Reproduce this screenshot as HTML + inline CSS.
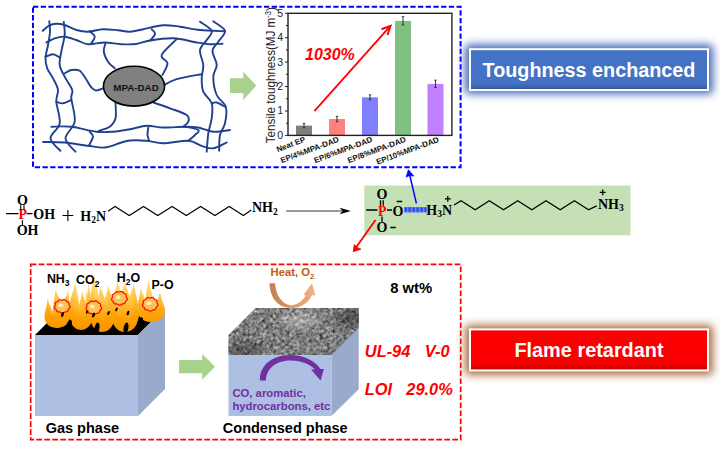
<!DOCTYPE html>
<html><head><meta charset="utf-8">
<style>
html,body{margin:0;padding:0;background:#fff;width:720px;height:450px;overflow:hidden}
svg{display:block}
text{font-family:"Liberation Sans",sans-serif}
.serif text,.serif{font-family:"Liberation Serif",serif;font-weight:bold}
</style></head><body>
<svg width="720" height="450" viewBox="0 0 720 450">
<defs>
  
  <filter id="blur35" x="-20%" y="-60%" width="140%" height="220%"><feGaussianBlur stdDeviation="4"/></filter>
  <linearGradient id="gBlue" x1="0" y1="0" x2="0" y2="1">
    <stop offset="0" stop-color="#4472c4"/><stop offset="0.85" stop-color="#4472c4"/><stop offset="1" stop-color="#2f5597"/>
  </linearGradient>
  <linearGradient id="gRed" x1="0" y1="0" x2="0" y2="1">
    <stop offset="0" stop-color="#ff0000"/><stop offset="0.85" stop-color="#f80000"/><stop offset="1" stop-color="#c00000"/>
  </linearGradient>
  <linearGradient id="gHeat" x1="0" y1="0" x2="1" y2="0">
    <stop offset="0" stop-color="#c08050"/><stop offset="1" stop-color="#f4b183"/>
  </linearGradient>
  <linearGradient id="gFlame" gradientUnits="userSpaceOnUse" x1="0" y1="334" x2="0" y2="273">
    <stop offset="0" stop-color="#f39200"/><stop offset="0.3" stop-color="#ffa000"/><stop offset="0.55" stop-color="#ffbb35"/><stop offset="0.8" stop-color="#ffda75"/><stop offset="1" stop-color="#fff2c8"/>
  </linearGradient>
  <linearGradient id="gFlameIn" gradientUnits="userSpaceOnUse" x1="0" y1="334" x2="0" y2="273">
    <stop offset="0" stop-color="#ffa000" stop-opacity="0"/><stop offset="0.35" stop-color="#ffb020" stop-opacity="0.6"/><stop offset="0.7" stop-color="#ffd870"/><stop offset="1" stop-color="#fff6d8"/>
  </linearGradient>
  <filter id="noise" x="0" y="0" width="100%" height="100%" color-interpolation-filters="sRGB">
    <feTurbulence type="fractalNoise" baseFrequency="0.3" numOctaves="3" seed="7"/>
    <feColorMatrix type="matrix" values="0.33 0.33 0.33 0 0  0.33 0.33 0.33 0 0  0.33 0.33 0.33 0 0  0 0 0 0 1"/>
    <feComponentTransfer><feFuncR type="linear" slope="1.5" intercept="-0.25"/><feFuncG type="linear" slope="1.5" intercept="-0.25"/><feFuncB type="linear" slope="1.5" intercept="-0.25"/></feComponentTransfer>
  </filter>
  <pattern id="hatch" width="4" height="5.5" patternUnits="userSpaceOnUse" x="404" y="207">
    <rect width="4" height="5.5" fill="#4a64ee"/><rect x="1" y="1" width="1.5" height="3" fill="#2440f0"/><rect x="3" y="0" width="1" height="5.5" fill="#7088e8"/>
  </pattern>
</defs>

<!-- blue dashed box -->
<rect x="33" y="6.7" width="427.6" height="160.6" fill="none" stroke="#0000ff" stroke-width="2" stroke-dasharray="5.3 2.4"/>

<!-- network -->
<g fill="none" stroke="#1f4190" stroke-width="1.9" stroke-linecap="round">
<path d="M42.7 30.8 C43.7 30.0 46.5 27.0 48.8 25.8 C51.1 24.6 53.6 23.8 56.3 23.7 C58.9 23.6 61.4 23.9 64.7 25.0 C68.0 26.1 72.4 28.9 76.3 30.0 C80.2 31.1 83.5 31.8 88.0 31.7 C92.5 31.6 98.0 29.4 103.0 29.2 C108.0 29.0 113.5 29.9 118.0 30.3 C122.5 30.7 125.8 31.9 130.0 31.7 C134.2 31.5 137.8 30.3 143.3 29.2 C148.9 28.1 157.2 25.7 163.3 25.3 C169.4 24.9 173.9 25.9 180.0 26.7 C186.1 27.5 192.5 29.2 200.0 30.0 C207.5 30.8 220.8 31.1 225.0 31.3"/>
<path d="M46.3 42.5 C47.7 41.8 51.6 39.3 54.7 38.3 C57.8 37.3 61.1 36.4 64.7 36.7 C68.3 37.0 72.4 38.8 76.3 40.0 C80.2 41.2 83.3 43.8 88.0 44.2 C92.7 44.6 99.2 42.5 104.7 42.5 C110.2 42.5 116.1 44.0 121.3 44.2 C126.5 44.5 131.2 44.6 136.0 44.0 C140.8 43.4 143.8 41.5 150.0 40.5 C156.2 39.5 165.5 38.0 173.3 38.3 C181.1 38.6 190.6 41.5 196.7 42.5 C202.8 43.5 205.7 44.0 210.0 44.2 C214.3 44.4 220.4 43.8 222.5 43.7"/>
<path d="M89.7 31.2 C90.5 32.1 94.4 34.7 94.7 36.7 C95.0 38.7 91.9 42.2 91.3 43.3"/>
<path d="M151.7 29.2 C152.2 30.0 155.3 32.1 155.0 34.0 C154.7 35.9 150.8 39.7 150.0 40.8"/>
<path d="M49.3 21.3 C49.4 23.0 50.2 27.8 50.0 31.7 C49.8 35.6 48.8 40.6 48.0 45.0 C47.2 49.4 45.6 54.4 45.5 58.3 C45.4 62.2 46.0 65.0 47.2 68.3 C48.5 71.6 51.2 74.7 53.0 78.3 C54.8 81.9 57.5 86.1 58.0 90.0 C58.5 93.9 56.0 96.2 56.3 101.7 C56.6 107.2 60.7 117.2 59.7 123.3 C58.7 129.4 50.4 133.7 50.5 138.3 C50.6 142.9 58.8 148.7 60.5 150.8"/>
<path d="M63.8 22.0 C63.9 24.2 65.1 30.1 64.7 35.0 C64.3 40.0 62.1 46.7 61.3 51.7 C60.5 56.7 59.1 60.8 59.7 65.0 C60.3 69.2 62.6 72.5 64.7 76.7 C66.8 80.9 71.1 86.4 72.2 90.0 C73.3 93.6 70.9 93.0 71.3 98.3 C71.7 103.6 75.7 115.0 74.7 121.7 C73.7 128.4 65.4 133.3 65.5 138.3 C65.6 143.3 73.8 149.5 75.5 151.7"/>
<path d="M45.5 56.7 C46.8 56.3 50.6 54.1 53.0 54.2 C55.4 54.3 58.6 57.0 59.7 57.5"/>
<path d="M56.3 101.7 C57.4 102.0 60.5 103.6 63.0 103.3 C65.5 103.0 69.9 100.5 71.3 100.0"/>
<path d="M64.7 73.3 C65.8 72.8 68.8 70.4 71.3 70.0 C73.8 69.6 77.2 69.3 79.7 70.8 C82.2 72.3 84.1 76.3 86.0 79.0 C87.9 81.7 89.3 85.1 91.0 87.0 C92.7 88.9 93.8 90.3 96.0 90.5 C98.2 90.7 102.7 88.4 104.0 88.0"/>
<path d="M105.5 43.3 C105.2 44.7 103.4 48.6 103.8 51.7 C104.2 54.8 106.2 58.9 108.0 61.7 C109.8 64.5 113.6 67.2 114.7 68.3"/>
<path d="M176.7 39.2 C174.2 41.8 163.2 51.0 161.7 55.0 C160.2 59.0 167.4 60.0 167.5 63.3 C167.6 66.6 163.3 73.0 162.5 75.0"/>
<path d="M164.2 85.0 C166.3 84.0 170.4 81.0 176.7 79.2 C182.9 77.4 197.5 75.0 201.7 74.2"/>
<path d="M200.0 21.7 C201.9 23.2 210.6 27.8 211.7 30.8 C212.8 33.9 208.6 36.8 206.7 40.0 C204.8 43.2 200.6 45.8 200.0 50.0 C199.4 54.2 203.0 60.3 203.3 65.0 C203.6 69.7 201.7 73.8 201.7 78.3 C201.7 82.8 201.6 87.5 203.3 91.7 C205.0 95.9 210.3 98.9 211.7 103.3 C213.1 107.7 212.3 113.3 211.7 118.3 C211.1 123.3 209.1 127.7 208.3 133.3 C207.5 138.9 207.0 148.6 206.7 151.7"/>
<path d="M213.3 21.3 C215.2 22.9 224.2 27.4 225.0 30.8 C225.8 34.2 220.4 38.4 218.3 41.7 C216.2 45.0 212.8 46.9 212.5 50.8 C212.2 54.7 216.6 60.7 216.7 65.0 C216.8 69.3 213.3 71.7 213.3 76.7 C213.3 81.7 214.6 90.0 216.7 95.0 C218.8 100.0 224.4 102.0 225.8 106.7 C227.2 111.4 226.0 118.6 225.0 123.3 C224.0 128.0 221.0 130.4 220.0 135.0 C219.0 139.6 219.3 148.2 219.2 150.8"/>
<path d="M211.7 103.3 C212.5 103.2 214.5 101.9 216.7 102.5 C218.9 103.1 223.6 106.0 225.0 106.7"/>
<path d="M51.3 126.7 C54.6 126.7 63.8 125.9 71.3 126.7 C78.8 127.5 89.3 130.9 96.3 131.7 C103.2 132.5 107.4 132.1 113.0 131.7 C118.6 131.3 124.4 130.2 130.0 129.2 C135.6 128.2 141.1 126.1 146.7 125.8 C152.2 125.5 156.9 127.3 163.3 127.5 C169.7 127.7 179.2 126.7 185.0 126.7 C190.8 126.7 193.6 126.7 198.3 127.5 C203.0 128.3 208.0 131.3 213.3 131.7 C218.6 132.1 227.2 130.3 230.0 130.0"/>
<path d="M43.0 142.0 C46.6 142.1 57.2 141.9 64.7 142.5 C72.2 143.1 81.3 145.0 88.0 145.8 C94.7 146.6 99.4 148.0 104.7 147.5 C110.0 147.0 115.8 144.2 120.0 143.0 C124.2 141.8 125.5 140.9 130.0 140.5 C134.4 140.1 141.1 140.3 146.7 140.8 C152.2 141.3 156.4 143.3 163.3 143.3 C170.2 143.3 181.9 140.4 188.3 140.8 C194.7 141.2 197.5 144.6 201.7 145.8 C205.9 147.1 209.1 148.9 213.3 148.3 C217.5 147.8 224.5 143.5 226.7 142.5"/>
<path d="M89.7 131.7 C90.2 132.5 93.2 134.3 93.0 136.7 C92.8 139.0 89.5 144.3 88.8 145.8"/>
<path d="M148.3 127.5 C148.2 128.8 147.3 132.8 147.5 135.0 C147.7 137.2 148.9 139.8 149.2 140.8"/>
<path d="M185.0 126.7 C187.2 127.2 196.6 128.6 198.3 130.0 C200.0 131.4 196.7 133.2 195.0 135.0 C193.3 136.8 189.4 139.8 188.3 140.8"/>
<path d="M115.5 102.5 C115.5 105.1 116.5 114.3 115.5 118.3 C114.5 122.3 112.5 124.6 109.7 126.7 C106.9 128.8 100.6 130.1 98.8 130.8"/>
<path d="M153.3 102.5 C156.1 103.5 164.4 106.2 170.0 108.3 C175.6 110.4 183.6 112.8 186.7 115.0 C189.8 117.2 188.9 119.8 188.3 121.7 C187.7 123.7 184.1 125.9 183.3 126.7"/>
</g>
<ellipse cx="134" cy="86.2" rx="30.6" ry="19.9" fill="#808080" stroke="#000" stroke-width="1.6"/>
<text x="136" y="90.7" font-size="9.8" font-weight="bold" text-anchor="middle" fill="#111">MPA-DAD</text>

<!-- green arrow top -->
<path d="M230 78.3 H243.3 V71.7 L256.3 85.6 L243.3 100 V93.1 H230 Z" fill="#a9d18e"/>

<!-- chart -->
<rect x="296.0" y="125.6" width="16.0" height="9.8" fill="#7f7f7f"/>
<path d="M304.0 123.4 V127.8 M302.8 123.4 H305.2 M302.8 127.8 H305.2" stroke="#222" stroke-width="0.9" fill="none"/>
<rect x="329.0" y="119.0" width="16.0" height="16.4" fill="#ff8080"/>
<path d="M337.0 116.4 V121.7 M335.8 116.4 H338.2 M335.8 121.7 H338.2" stroke="#222" stroke-width="0.9" fill="none"/>
<rect x="362.0" y="97.3" width="16.0" height="38.1" fill="#7f7fff"/>
<path d="M370.0 94.9 V99.7 M368.8 94.9 H371.2 M368.8 99.7 H371.2" stroke="#222" stroke-width="0.9" fill="none"/>
<rect x="395.0" y="20.9" width="16.0" height="114.5" fill="#80c080"/>
<path d="M403.0 16.7 V25.0 M401.8 16.7 H404.2 M401.8 25.0 H404.2" stroke="#222" stroke-width="0.9" fill="none"/>
<rect x="427.5" y="83.9" width="16.0" height="51.5" fill="#c080ff"/>
<path d="M435.5 80.2 V87.5 M434.3 80.2 H436.7 M434.3 87.5 H436.7" stroke="#222" stroke-width="0.9" fill="none"/>
<rect x="288" y="13.3" width="163.9" height="122.1" fill="none" stroke="#222" stroke-width="1.4"/>
<g stroke="#222" stroke-width="1">
<line x1="285" y1="135.4" x2="288" y2="135.4"/>
<line x1="286" y1="123.2" x2="288" y2="123.2"/>
<line x1="285" y1="111.0" x2="288" y2="111.0"/>
<line x1="286" y1="98.8" x2="288" y2="98.8"/>
<line x1="285" y1="86.6" x2="288" y2="86.6"/>
<line x1="286" y1="74.3" x2="288" y2="74.3"/>
<line x1="285" y1="62.1" x2="288" y2="62.1"/>
<line x1="286" y1="49.9" x2="288" y2="49.9"/>
<line x1="285" y1="37.7" x2="288" y2="37.7"/>
<line x1="286" y1="25.5" x2="288" y2="25.5"/>
<line x1="285" y1="13.3" x2="288" y2="13.3"/>
</g>
<g font-size="10.6" text-anchor="end" fill="#222">
<text transform="translate(283.2 138.8)">0</text>
<text transform="translate(283.2 114.4)">1</text>
<text transform="translate(283.2 90.0)">2</text>
<text transform="translate(283.2 65.5)">3</text>
<text transform="translate(283.2 41.1)">4</text>
<text transform="translate(283.2 16.7)">5</text>
</g>
<text transform="translate(275 143.2) scale(1.1 1) rotate(-90)" font-size="11.65" fill="#222">Tensile toughness(MJ m<tspan dy="-4" font-size="7.5">-3</tspan><tspan dy="4">)</tspan></text>
<g font-size="8" font-weight="bold" text-anchor="end" fill="#111">
<text transform="translate(306.0 141.6) rotate(-20.5)">Neat EP</text>
<text transform="translate(339.5 141.6) rotate(-20.5)">EP/4%MPA-DAD</text>
<text transform="translate(373.0 141.6) rotate(-20.5)">EP/6%MPA-DAD</text>
<text transform="translate(406.5 141.6) rotate(-20.5)">EP/8%MPA-DAD</text>
<text transform="translate(439.5 141.6) rotate(-20.5)">EP/10%MPA-DAD</text>
</g>
<text x="305" y="60" font-size="16" font-weight="bold" font-style="italic" fill="#ff0000">1030%</text>
<g stroke="#ff0000" stroke-width="1.8" fill="none">
<path d="M314.4 111.1 L390 26.4"/>
</g>
<path d="M381.5 29.2 L390.5 25.8 L387.5 35" fill="none" stroke="#ff0000" stroke-width="2" stroke-linejoin="miter"/>

<!-- Toughness enchanced -->
<rect x="465" y="44.5" width="248" height="49.5" rx="4" fill="#3a60b5" opacity="0.95" filter="url(#blur35)"/>
<rect x="470" y="49.2" width="238" height="40.8" fill="url(#gBlue)" stroke="#fff" stroke-width="2"/>
<text x="589" y="77" font-size="19.8" font-weight="bold" text-anchor="middle" fill="#fff">Toughness enchanced</text>

<!-- reaction row -->
<g class="serif" font-size="14" fill="#000">
  <text x="17" y="204.7">O</text>
  <text x="18.5" y="219.3" fill="#ff0000">P</text>
  <text x="33.3" y="219.3">OH</text>
  <text x="16.7" y="235.3">OH</text>
  <text x="80.3" y="220.7">H<tspan font-size="9.5" dy="2.5">2</tspan><tspan dy="-2.5">N</tspan></text>
  <text x="252" y="212.3">NH<tspan font-size="9.5" dy="2.5">2</tspan></text>
</g>
<g stroke="#000" stroke-width="1.1" fill="none">
  <path d="M6 213.6 H18.5 M26.7 213.6 H32.5 M20.7 205.3 V210 M24 205.3 V210 M22.4 220.3 V225.5"/>
  <path d="M62.5 215.5 H73.3 M67.9 210.1 V220.9"/>
  <path d="M108.0 211.3 L115.0 206.5 L129.3 215.5 L143.5 206.5 L157.8 215.5 L172.1 206.5 L186.3 215.5 L200.6 206.5 L214.9 215.5 L229.2 206.5 L243.4 215.5 L251.3 210.0" stroke-linejoin="miter"/>
</g>
<!-- arrow -->
<path d="M286.2 211 H342" stroke="#777" stroke-width="1.3"/>
<path d="M350.8 211 L339.7 207.8 L342.5 211 L339.7 214.2 Z" fill="#000"/>

<!-- green product box -->
<rect x="364.3" y="185.5" width="266.2" height="49.8" fill="#c5e0b4"/>
<g class="serif" font-size="14" fill="#000">
  <text x="376.6" y="199.3">O</text>
  <text x="377.9" y="215.6" fill="#ff0000">P</text>
  <text x="392.4" y="215.8">O</text>
  <text x="376.6" y="232">O</text>
  <text x="426.3" y="214.7">H<tspan font-size="9.5" dy="2.6">3</tspan><tspan dy="-2.6">N</tspan></text>
  <text x="598" y="208.6">NH<tspan font-size="9.5" dy="2.6">3</tspan></text>
</g>
<g stroke="#000" stroke-width="1.3" fill="none">
  <path d="M366.1 210 H377.5 M387 210 H392 M380.5 200.3 V205.8 M383.2 200.3 V205.8 M382 216.5 V221.7"/>
  <path d="M396.7 201.5 H402.2 M390.3 227.5 H395.7 M444.9 198.8 H450.7 M447.8 195.9 V201.7 M599.8 192.3 H605.6 M602.7 189.4 V195.2"/>
  <path d="M454.0 205.0 L461.0 200.8 L475.2 209.8 L489.3 200.8 L503.5 209.8 L517.7 200.8 L531.9 209.8 L546.0 200.8 L560.2 209.8 L574.4 200.8 L588.5 209.8 L596.7 205.8"/>
</g>
<rect x="404.2" y="207" width="22.6" height="5.5" fill="url(#hatch)"/>
<!-- blue arrow -->
<path d="M416.4 203.4 L409 172" stroke="#0000ff" stroke-width="1.5" fill="none"/>
<path d="M408.4 169.8 L406.2 177 L409.6 175.5 L413.8 176 Z" fill="#0000ff" stroke="#0000ff" stroke-width="0.8"/>
<!-- red arrow -->
<path d="M375.5 219.9 L355 249" stroke="#ff0000" stroke-width="1.8" fill="none"/>
<path d="M353.2 251.7 L354.3 244.5 L357 247.5 L361 249.2 Z" fill="#ff0000" stroke="#ff0000" stroke-width="0.8"/>

<!-- red dashed box -->
<rect x="30.7" y="264.4" width="430" height="175.3" fill="none" stroke="#ff0000" stroke-width="1.7" stroke-dasharray="5.7 2.3"/>

<!-- cube 1 -->
<path d="M35 335 L62 308 L165 308 L138 335 Z" fill="#000"/>
<rect x="35" y="335" width="103" height="81" fill="#adbfe3"/>
<path d="M138 335 L165 308 L165 389 L138 416 Z" fill="#9aaacc"/>
<!-- flames -->
<g fill="url(#gFlame)">
<path d="M57.5 328.0 C48.4 328.0 44.5 322.1 44.5 316.7 C44.5 311.7 46.8 307.3 47.8 298.3 C48.6 305.3 51.8 309.3 52.3 314.3 C52.8 307.3 54.6 298.0 55.8 289.0 C57.0 298.0 61.9 299.0 62.4 306.0 C62.9 301.0 67.2 297.0 68.0 290.0 C69.0 299.0 70.5 307.1 70.5 313.6 C70.5 320.4 66.6 328.0 57.5 328.0 Z"/>
<path d="M81.0 330.0 C72.2 330.0 68.5 320.3 68.5 311.6 C68.5 303.3 74.0 290.5 75.0 281.5 C75.8 288.5 78.8 302.0 79.2 307.0 C79.8 300.0 81.3 300.0 82.5 291.0 C83.7 300.0 85.5 300.0 86.0 307.0 C86.5 302.0 87.7 290.5 88.5 283.5 C89.5 292.5 93.5 304.4 93.5 312.3 C93.5 320.7 89.8 330.0 81.0 330.0 Z"/>
<path d="M102.0 332.0 C92.9 332.0 89.0 320.2 89.0 309.6 C89.0 299.6 93.3 282.0 94.3 273.0 C95.1 280.0 97.4 296.5 97.9 301.5 C98.4 294.5 99.3 294.5 100.5 285.5 C101.7 294.5 104.5 294.5 105.0 301.5 C105.5 296.5 107.8 291.6 108.6 284.6 C109.6 293.6 115.0 305.9 115.0 314.0 C115.0 322.5 111.1 332.0 102.0 332.0 Z"/>
<path d="M125.0 332.0 C115.2 332.0 111.0 321.6 111.0 312.2 C111.0 303.4 116.6 289.0 117.6 280.0 C118.4 287.0 121.2 291.0 121.7 296.0 C122.2 289.0 123.6 289.0 124.8 280.0 C126.0 289.0 129.3 291.8 129.8 298.8 C130.3 293.8 133.1 289.8 133.9 282.8 C134.9 291.8 139.0 304.9 139.0 313.3 C139.0 322.2 134.8 332.0 125.0 332.0 Z"/>
<path d="M151.0 322.0 C141.2 322.0 137.0 315.1 137.0 308.8 C137.0 302.9 140.1 296.3 141.1 287.3 C141.9 294.3 144.7 298.3 145.2 303.3 C145.7 296.3 147.1 287.2 148.3 278.2 C149.5 287.2 154.2 300.8 154.7 307.8 C155.2 302.8 159.2 298.8 160.0 291.8 C161.0 300.8 165.0 305.4 165.0 310.5 C165.0 316.0 160.8 322.0 151.0 322.0 Z"/>
</g><g fill="url(#gFlameIn)">
<path d="M57.5 316.0 C51.9 316.0 49.5 313.7 49.5 311.6 C49.5 309.6 49.2 313.3 50.2 304.3 C51.0 311.3 53.2 309.3 53.7 314.3 C54.2 307.3 55.0 304.0 56.2 295.0 C57.4 304.0 60.8 299.0 61.3 306.0 C61.8 301.0 64.6 303.0 65.4 296.0 C66.4 305.0 65.5 305.0 65.5 308.4 C65.5 312.0 63.1 316.0 57.5 316.0 Z"/>
<path d="M81.0 318.0 C75.8 318.0 73.5 311.9 73.5 306.4 C73.5 301.2 75.5 296.5 76.5 287.5 C77.3 294.5 79.3 302.0 79.8 307.0 C80.3 300.0 80.9 306.0 82.1 297.0 C83.3 306.0 84.4 300.0 84.9 307.0 C85.4 302.0 85.8 296.5 86.6 289.5 C87.6 298.5 88.5 302.3 88.5 307.2 C88.5 312.3 86.2 318.0 81.0 318.0 Z"/>
<path d="M102.0 320.0 C96.4 320.0 94.0 311.8 94.0 304.4 C94.0 297.4 95.2 288.0 96.2 279.0 C97.0 286.0 98.5 296.5 99.0 301.5 C99.5 294.5 99.7 300.5 100.9 291.5 C102.1 300.5 103.9 294.5 104.4 301.5 C104.9 296.5 106.1 297.6 106.9 290.6 C107.9 299.6 110.0 303.8 110.0 308.8 C110.0 314.1 107.6 320.0 102.0 320.0 Z"/>
<path d="M125.0 320.0 C118.7 320.0 116.0 313.2 116.0 307.1 C116.0 301.3 118.4 295.0 119.4 286.0 C120.2 293.0 122.1 291.0 122.6 296.0 C123.1 289.0 123.6 295.0 124.8 286.0 C126.0 295.0 128.3 291.8 128.8 298.8 C129.3 293.8 130.9 295.8 131.7 288.8 C132.7 297.8 134.0 302.8 134.0 308.1 C134.0 313.8 131.3 320.0 125.0 320.0 Z"/>
<path d="M151.0 310.0 C144.7 310.0 142.0 306.7 142.0 303.7 C142.0 300.8 142.6 302.3 143.6 293.3 C144.4 300.3 146.3 298.3 146.8 303.3 C147.3 296.3 147.8 293.2 149.0 284.2 C150.2 293.2 153.4 300.8 153.9 307.8 C154.4 302.8 156.9 304.8 157.8 297.8 C158.8 306.8 160.0 303.3 160.0 305.4 C160.0 307.6 157.3 310.0 151.0 310.0 Z"/>
</g><g fill="#000">
<ellipse cx="69.0" cy="326.0" rx="2.6" ry="6.5" transform="rotate(15 69.0 326.0)"/>
<ellipse cx="97.0" cy="328.0" rx="2.4" ry="5.5" transform="rotate(10 97.0 328.0)"/>
<ellipse cx="126.0" cy="328.0" rx="2.4" ry="5.5" transform="rotate(10 126.0 328.0)"/>
<ellipse cx="140.0" cy="322.0" rx="2.5" ry="5.0" transform="rotate(20 140.0 322.0)"/>
</g>
<g fill="#ffc050" stroke="#ff0000" stroke-width="1.2" stroke-linejoin="round">
<path d="M69.90 306.30 L70.13 306.96 L70.01 307.60 L69.56 308.17 L68.98 308.65 L68.49 309.11 L68.20 309.64 L68.03 310.27 L67.78 310.91 L67.32 311.42 L66.64 311.71 L65.89 311.84 L65.18 311.96 L64.56 312.21 L63.97 312.61 L63.31 313.01 L62.58 313.20 L61.83 313.08 L61.14 312.72 L60.52 312.31 L59.91 312.05 L59.21 311.97 L58.44 311.95 L57.67 311.81 L57.06 311.44 L56.67 310.87 L56.42 310.24 L56.14 309.67 L55.71 309.20 L55.16 308.74 L54.67 308.22 L54.45 307.59 L54.57 306.93 L54.90 306.30 L55.20 305.72 L55.28 305.14 L55.17 304.51 L55.05 303.82 L55.16 303.15 L55.58 302.62 L56.24 302.24 L56.92 301.94 L57.49 301.59 L57.94 301.12 L58.39 300.58 L58.95 300.13 L59.65 299.93 L60.43 299.98 L61.18 300.14 L61.87 300.21 L62.54 300.09 L63.27 299.85 L64.05 299.68 L64.81 299.76 L65.44 300.14 L65.94 300.69 L66.37 301.22 L66.88 301.62 L67.53 301.90 L68.21 302.20 L68.76 302.64 L69.04 303.24 L69.08 303.91 L69.06 304.55 L69.18 305.13 L69.51 305.70 Z"/>
<path d="M101.40 307.60 L101.63 308.27 L101.51 308.93 L101.07 309.50 L100.49 309.99 L100.00 310.45 L99.72 310.99 L99.55 311.63 L99.31 312.28 L98.85 312.80 L98.19 313.09 L97.44 313.22 L96.74 313.34 L96.13 313.60 L95.54 314.01 L94.90 314.41 L94.17 314.61 L93.43 314.49 L92.75 314.12 L92.14 313.70 L91.54 313.43 L90.86 313.35 L90.09 313.34 L89.33 313.20 L88.73 312.82 L88.34 312.24 L88.10 311.60 L87.83 311.02 L87.40 310.54 L86.85 310.08 L86.37 309.55 L86.15 308.91 L86.27 308.24 L86.60 307.60 L86.90 307.01 L86.98 306.43 L86.87 305.78 L86.75 305.08 L86.85 304.40 L87.27 303.86 L87.91 303.47 L88.59 303.17 L89.16 302.82 L89.60 302.34 L90.04 301.79 L90.59 301.33 L91.29 301.12 L92.05 301.18 L92.79 301.35 L93.47 301.43 L94.14 301.30 L94.86 301.05 L95.63 300.87 L96.38 300.96 L97.00 301.34 L97.49 301.91 L97.91 302.45 L98.42 302.85 L99.05 303.13 L99.73 303.44 L100.28 303.89 L100.56 304.49 L100.59 305.17 L100.57 305.83 L100.68 306.42 L101.01 306.99 Z"/>
<path d="M127.20 298.20 L127.43 298.87 L127.31 299.52 L126.86 300.10 L126.27 300.59 L125.78 301.06 L125.49 301.60 L125.31 302.23 L125.05 302.88 L124.58 303.39 L123.90 303.69 L123.14 303.82 L122.42 303.95 L121.79 304.20 L121.19 304.61 L120.53 305.01 L119.78 305.20 L119.02 305.08 L118.32 304.72 L117.69 304.31 L117.07 304.04 L116.37 303.96 L115.59 303.94 L114.81 303.79 L114.20 303.42 L113.80 302.84 L113.54 302.20 L113.26 301.63 L112.82 301.14 L112.27 300.68 L111.77 300.14 L111.55 299.51 L111.67 298.84 L112.00 298.20 L112.30 297.61 L112.38 297.03 L112.27 296.38 L112.16 295.68 L112.27 295.01 L112.70 294.46 L113.36 294.07 L114.05 293.77 L114.63 293.42 L115.09 292.94 L115.54 292.39 L116.11 291.94 L116.82 291.73 L117.61 291.78 L118.36 291.94 L119.06 292.01 L119.75 291.89 L120.48 291.65 L121.28 291.48 L122.04 291.57 L122.69 291.95 L123.19 292.51 L123.63 293.04 L124.15 293.44 L124.80 293.73 L125.49 294.04 L126.05 294.49 L126.33 295.10 L126.38 295.77 L126.36 296.43 L126.48 297.02 L126.80 297.59 Z"/>
<path d="M157.80 304.20 L158.03 304.87 L157.91 305.53 L157.47 306.10 L156.89 306.59 L156.40 307.05 L156.12 307.59 L155.95 308.23 L155.71 308.88 L155.25 309.40 L154.59 309.69 L153.84 309.82 L153.14 309.94 L152.53 310.20 L151.94 310.61 L151.30 311.01 L150.57 311.21 L149.83 311.09 L149.15 310.72 L148.54 310.30 L147.94 310.03 L147.26 309.95 L146.49 309.94 L145.73 309.80 L145.13 309.42 L144.74 308.84 L144.50 308.20 L144.23 307.62 L143.80 307.14 L143.25 306.68 L142.77 306.15 L142.55 305.51 L142.67 304.84 L143.00 304.20 L143.30 303.61 L143.38 303.03 L143.27 302.38 L143.15 301.68 L143.25 301.00 L143.67 300.46 L144.31 300.07 L144.99 299.77 L145.56 299.42 L146.00 298.94 L146.44 298.39 L146.99 297.93 L147.69 297.72 L148.45 297.78 L149.19 297.95 L149.87 298.03 L150.54 297.90 L151.26 297.65 L152.03 297.47 L152.78 297.56 L153.40 297.94 L153.89 298.51 L154.31 299.05 L154.82 299.45 L155.45 299.73 L156.13 300.04 L156.68 300.49 L156.96 301.09 L156.99 301.77 L156.97 302.43 L157.08 303.02 L157.41 303.59 Z"/>
</g><g fill="#fff4d0" opacity="0.8">
<ellipse cx="60.7" cy="305.3" rx="2.6" ry="2"/>
<ellipse cx="92.3" cy="306.6" rx="2.6" ry="2"/>
<ellipse cx="117.9" cy="297.2" rx="2.6" ry="2"/>
<ellipse cx="148.7" cy="303.2" rx="2.6" ry="2"/>
</g><g fill="#000">
<ellipse cx="62.5" cy="314.5" rx="1.3" ry="2.6" transform="rotate(20 62.5 314.5)"/>
<ellipse cx="93.5" cy="315.0" rx="1.3" ry="2.6" transform="rotate(20 93.5 315.0)"/>
<ellipse cx="108.5" cy="313.0" rx="1.1" ry="2.2" transform="rotate(25 108.5 313.0)"/>
<ellipse cx="116.5" cy="309.5" rx="1.0" ry="2.0" transform="rotate(25 116.5 309.5)"/>
<ellipse cx="128.0" cy="313.0" rx="1.2" ry="2.4" transform="rotate(20 128.0 313.0)"/>
<ellipse cx="87.0" cy="312.0" rx="1.0" ry="1.8" transform="rotate(20 87.0 312.0)"/>
</g>
<g font-size="12.4" font-weight="bold" fill="#000">
  <text x="46.9" y="283">NH<tspan font-size="8.5" dy="2.8">3</tspan></text>
  <text x="76.1" y="284.4">CO<tspan font-size="8.5" dy="2.8">2</tspan></text>
  <text x="116.7" y="282">H<tspan font-size="8.5" dy="2.8">2</tspan><tspan dy="-2.8">O</tspan></text>
  <text x="151.5" y="289.2">P-O</text>
</g>

<!-- green arrow bottom -->
<path d="M179.1 360 H202.2 V353.9 L215 366.7 L202.2 379.8 V373.3 H179.1 Z" fill="#a9d18e"/>

<!-- cube 2 -->
<rect x="228.5" y="335" width="103" height="81" fill="#adbfe3"/>
<path d="M331.5 335 L358.7 308 L358.7 389.3 L331.5 416 Z" fill="#9aaacc"/>
<g>
  <clipPath id="texclip"><path d="M228.5 335 L255.5 308 L358.7 308 L358.7 328 L331.5 355 L228.5 355 Z"/></clipPath>
  <rect x="228" y="307" width="132" height="50" filter="url(#noise)" clip-path="url(#texclip)"/>
  <g clip-path="url(#texclip)" filter="url(#blur35)" opacity="0.35"><ellipse cx="350" cy="318" rx="14" ry="9" fill="#000"/><ellipse cx="245" cy="350" rx="18" ry="7" fill="#000"/><ellipse cx="300" cy="320" rx="20" ry="7" fill="#fff"/></g>
</g>
<!-- heat arrow -->
<path d="M269.5 283.3 H275 C276 296 282 304 291 305.5 C298 305 303 300 306 295.3 L303.3 295.3 L312 283.3 L315.3 295.3 L312 295.3 C308 304 300 308 291 308 C278 308 270 298 269.5 283.3 Z" fill="url(#gHeat)"/>
<text x="270.5" y="275.9" font-size="11.3" font-weight="bold" fill="#c55a11">Heat, O<tspan font-size="7.8" dy="2.8">2</tspan></text>
<!-- purple arrow -->
<path d="M260 380.6 C259 366 272 355 290 355 C304 355 315 361 320.5 369 L323.9 368.9 L320.6 380.6 L311 369.4 L314.8 369.4 C310 364 301 360.5 291 360.5 C277 360.5 266 368 266 380.6 Z" fill="#7030a0"/>
<g font-size="11.3" font-weight="bold" fill="#7030a0">
  <text x="232.4" y="396.6">CO, aromatic,</text>
  <text x="232.4" y="409.8">hydrocarbons, etc</text>
</g>
<g font-size="14.5" font-weight="bold" fill="#000">
  <text x="45.7" y="433.3">Gas phase</text>
  <text x="222.8" y="433">Condensed phase</text>
</g>
<text x="390.2" y="293.3" font-size="14.8" font-weight="bold" fill="#000">8 wt%</text>
<g font-size="16.4" font-weight="bold" font-style="italic" fill="#ff0000">
  <text x="364.8" y="356.6">UL-94</text><text x="424.8" y="356.6">V-0</text>
  <text x="364.8" y="394.7">LOI</text><text x="406.3" y="394.7">29.0%</text>
</g>

<!-- Flame retardant -->
<rect x="465" y="325" width="248" height="50" rx="4" fill="#a8683a" opacity="0.95" filter="url(#blur35)"/>
<rect x="470" y="329.4" width="238" height="41" fill="url(#gRed)" stroke="#fff" stroke-width="2"/>
<text x="589" y="357.3" font-size="19.9" font-weight="bold" text-anchor="middle" fill="#fff">Flame retardant</text>
</svg>
</body></html>
